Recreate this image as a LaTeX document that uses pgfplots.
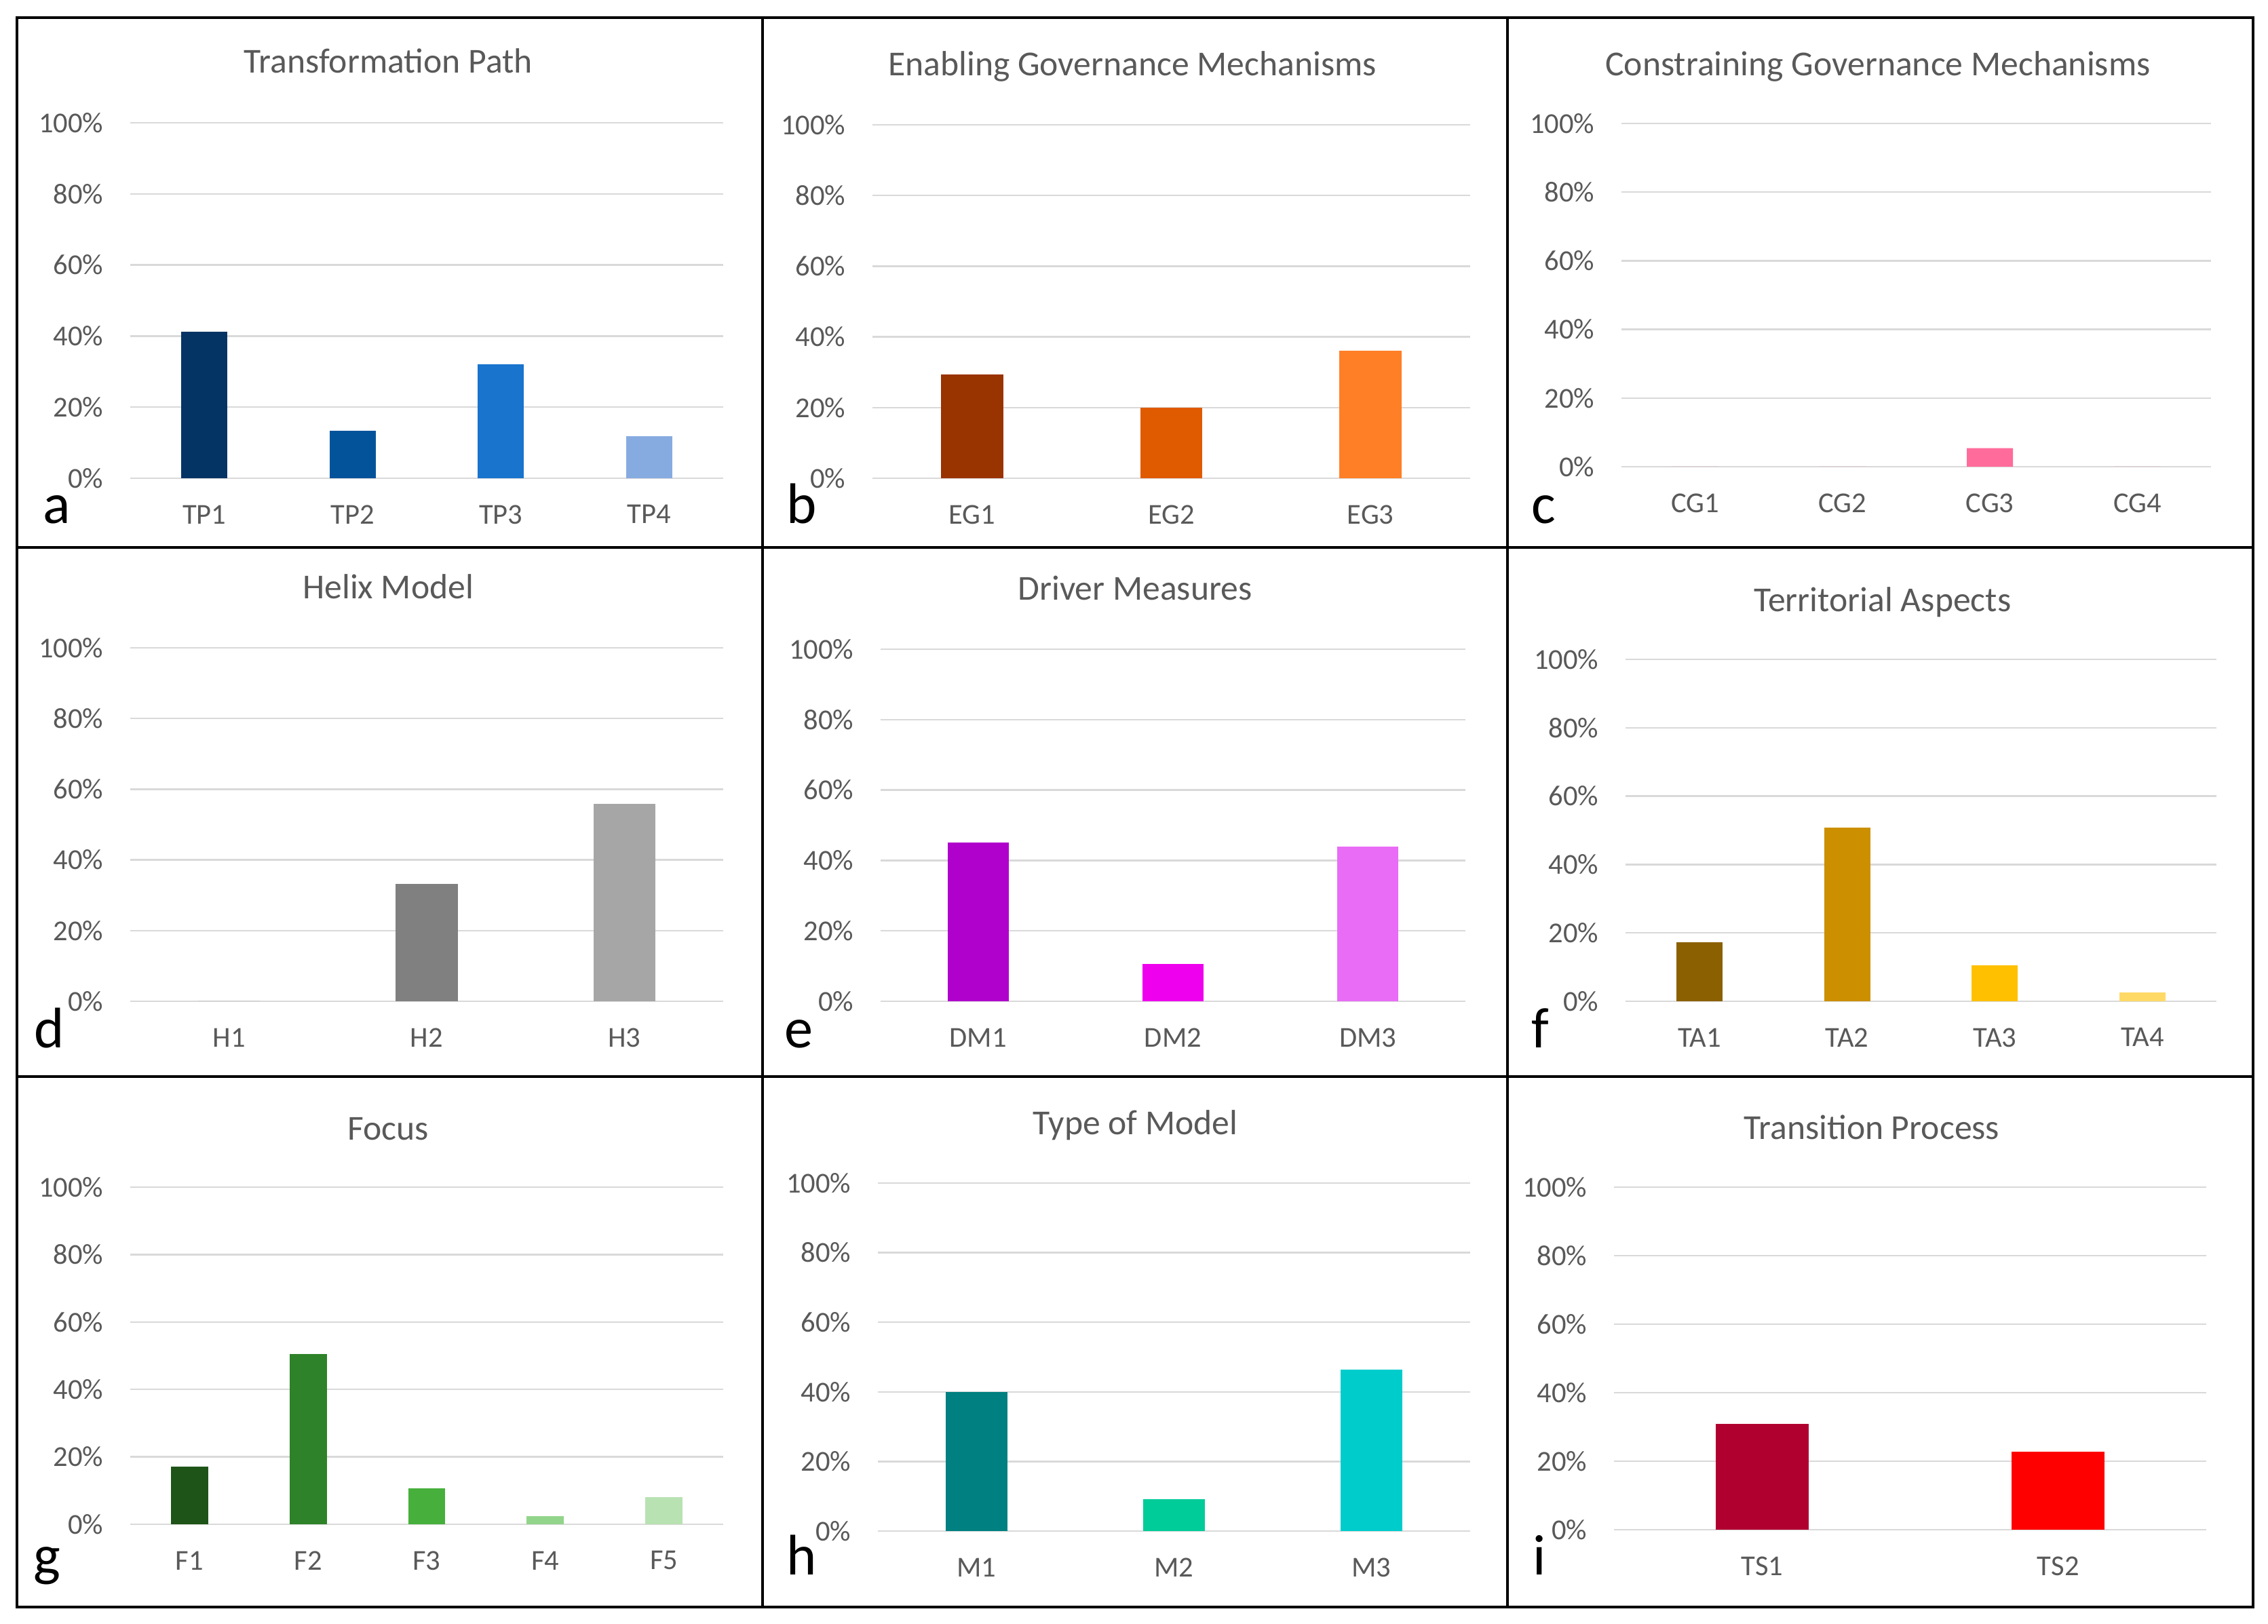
\documentclass[border=0pt]{standalone}
\usepackage{fontspec}
\setmainfont{Carlito}
\usepackage{pgfplots}
\pgfplotsset{compat=1.18}

\definecolor{gridgrey}{HTML}{D9D9D9}
\definecolor{labgrey}{HTML}{595959}
% bar colours
\definecolor{tp1}{HTML}{033464}\definecolor{tp2}{HTML}{02539A}
\definecolor{tp3}{HTML}{1874CD}\definecolor{tp4}{HTML}{86ABE0}
\definecolor{eg1}{HTML}{993300}\definecolor{eg2}{HTML}{E05A00}
\definecolor{eg3}{HTML}{FF7F27}
\definecolor{cg3}{HTML}{FF6C9B}
\definecolor{h2}{HTML}{808080}\definecolor{h3}{HTML}{A6A6A6}
\definecolor{dm1}{HTML}{B000CC}\definecolor{dm2}{HTML}{EE00EE}
\definecolor{dm3}{HTML}{E96CF6}
\definecolor{ta1}{HTML}{8B6000}\definecolor{ta2}{HTML}{CC8F00}
\definecolor{ta3}{HTML}{FFC000}\definecolor{ta4}{HTML}{FFD966}
\definecolor{f1}{HTML}{1E5417}\definecolor{f2}{HTML}{2E8229}
\definecolor{f3}{HTML}{47AF3C}\definecolor{f4}{HTML}{92D58A}
\definecolor{f5}{HTML}{B8E2B2}
\definecolor{m1}{HTML}{008080}\definecolor{m2}{HTML}{00CC99}
\definecolor{m3}{HTML}{00CCCC}
\definecolor{ts1}{HTML}{B00030}\definecolor{ts2}{HTML}{FF0000}

\newcommand\ticksize{\fontsize{12.1}{14}\selectfont}
\newcommand\titlesize{\fontsize{14.7}{17}\selectfont}
\newcommand\lettersize{\fontsize{24}{28}\selectfont}

\pgfplotsset{
  panel/.style={
    scale only axis, anchor=south west,
    ybar, bar width=0.313,
    enlargelimits=false,
    ymin=0, ymax=100, ytick={0,20,40,60,80,100},
    yticklabels={0\%,20\%,40\%,60\%,80\%,100\%},
    axis line style={draw=none},
    major tick length=0pt,
    ymajorgrids, grid style={draw=gridgrey, line width=0.65pt},
    tick label style={font=\ticksize, text=labgrey, inner sep=0pt},
    yticklabel style={anchor=east, xshift=-0.39cm},
    xticklabel style={anchor=north, yshift=-0.39cm},
    every axis title shift=0pt,
    title style={font=\titlesize, text=labgrey, inner sep=0pt,
      at={(axis description cs:0.435,1.14)}, anchor=base},
    every axis plot post/.append style={draw=none, bar shift=0pt},
  },
}

\begin{document}
\begin{tikzpicture}
\fill[white] (0,0) rectangle (33.43,23.94);
\path[use as bounding box] (0,0) rectangle (33.43,23.94);

% a
\begin{axis}[panel, at={(1.92cm,16.89cm)}, width=8.74cm, height=5.24cm,
  xmin=-0.5, xmax=3.5, xtick={0,1,2,3}, xticklabels={TP1,TP2,TP3,TP4},
  title={Transformation Path}]
\addplot[fill=tp1] coordinates {(0,41.2)};
\addplot[fill=tp2] coordinates {(1,13.3)};
\addplot[fill=tp3] coordinates {(2,32.0)};
\addplot[fill=tp4] coordinates {(3,11.9)};
\end{axis}

% b
\begin{axis}[panel, at={(12.86cm,16.89cm)}, width=8.81cm, height=5.21cm,
  xmin=-0.5, xmax=2.5, xtick={0,1,2}, xticklabels={EG1,EG2,EG3},
  title={Enabling Governance Mechanisms}]
\addplot[fill=eg1] coordinates {(0,29.3)};
\addplot[fill=eg2] coordinates {(1,20.0)};
\addplot[fill=eg3] coordinates {(2,36.0)};
\end{axis}

% c
\begin{axis}[panel, at={(23.90cm,17.06cm)}, width=8.69cm, height=5.06cm,
  xmin=-0.5, xmax=3.5, xtick={0,1,2,3}, xticklabels={CG1,CG2,CG3,CG4},
  title={Constraining Governance Mechanisms}]
\addplot[fill=cg3] coordinates {(0,0) (1,0) (2,5.4) (3,0)};
\end{axis}

% d
\begin{axis}[panel, at={(1.92cm,9.18cm)}, width=8.74cm, height=5.21cm,
  xmin=-0.5, xmax=2.5, xtick={0,1,2}, xticklabels={H1,H2,H3},
  title={Helix Model}]
\addplot[fill=h2] coordinates {(0,0)};
\addplot[fill=h2] coordinates {(1,33.2)};
\addplot[fill=h3] coordinates {(2,55.9)};
\end{axis}

% e
\begin{axis}[panel, at={(12.98cm,9.18cm)}, width=8.62cm, height=5.19cm,
  xmin=-0.5, xmax=2.5, xtick={0,1,2}, xticklabels={DM1,DM2,DM3},
  title={Driver Measures}]
\addplot[fill=dm1] coordinates {(0,45.1)};
\addplot[fill=dm2] coordinates {(1,10.6)};
\addplot[fill=dm3] coordinates {(2,43.9)};
\end{axis}

% f
\begin{axis}[panel, at={(23.96cm,9.18cm)}, width=8.71cm, height=5.04cm,
  xmin=-0.5, xmax=3.5, xtick={0,1,2,3}, xticklabels={TA1,TA2,TA3,TA4},
  title={Territorial Aspects}]
\addplot[fill=ta1] coordinates {(0,17.2)};
\addplot[fill=ta2] coordinates {(1,50.7)};
\addplot[fill=ta3] coordinates {(2,10.6)};
\addplot[fill=ta4] coordinates {(3,2.6)};
\end{axis}

% g
\begin{axis}[panel, at={(1.92cm,1.47cm)}, width=8.74cm, height=4.97cm,
  xmin=-0.5, xmax=4.5, xtick={0,1,2,3,4}, xticklabels={F1,F2,F3,F4,F5},
  title={Focus}]
\addplot[fill=f1] coordinates {(0,17.1)};
\addplot[fill=f2] coordinates {(1,50.6)};
\addplot[fill=f3] coordinates {(2,10.6)};
\addplot[fill=f4] coordinates {(3,2.5)};
\addplot[fill=f5] coordinates {(4,8.0)};
\end{axis}

% h
\begin{axis}[panel, at={(12.94cm,1.37cm)}, width=8.73cm, height=5.13cm,
  xmin=-0.5, xmax=2.5, xtick={0,1,2}, xticklabels={M1,M2,M3},
  title={Type of Model}]
\addplot[fill=m1] coordinates {(0,39.9)};
\addplot[fill=m2] coordinates {(1,9.1)};
\addplot[fill=m3] coordinates {(2,46.4)};
\end{axis}

% i
\begin{axis}[panel, at={(23.79cm,1.39cm)}, width=8.73cm, height=5.05cm,
  xmin=-0.5, xmax=1.5, xtick={0,1}, xticklabels={TS1,TS2},
  title={Transition Process}]
\addplot[fill=ts1] coordinates {(0,30.8)};
\addplot[fill=ts2] coordinates {(1,22.8)};
\end{axis}

% panel frame
\draw[line width=1.2pt] (0.25,0.25) rectangle (33.21,23.68);
\draw[line width=1.2pt] (11.24,0.25) -- (11.24,23.68)
  (22.22,0.25) -- (22.22,23.68)
  (0.25,15.87) -- (33.21,15.87)
  (0.25,8.07) -- (33.21,8.07);

% panel letters
\begin{scope}[every node/.style={anchor=base west, inner sep=0pt, font=\lettersize}]
\node at (0.63,16.22) {a};
\node at (11.59,16.22) {b};
\node at (22.57,16.22) {c};
\node at (0.50,8.49) {d};
\node at (11.56,8.49) {e};
\node at (22.57,8.49) {f};
\node at (0.49,0.72) {g};
\node at (11.59,0.72) {h};
\node at (22.59,0.72) {i};
\end{scope}
\end{tikzpicture}
\end{document}
